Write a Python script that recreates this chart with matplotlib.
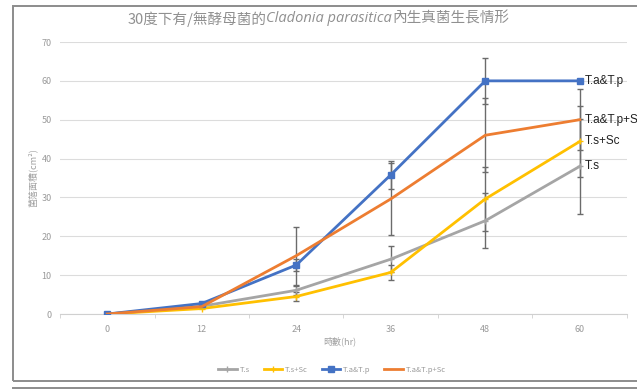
import matplotlib
matplotlib.use("Agg")
import matplotlib.pyplot as plt
from matplotlib.patches import Rectangle
from matplotlib.lines import Line2D

plt.rcParams['font.family'] = ['Noto Sans CJK TC', 'DejaVu Sans']

hours = [0, 12, 24, 36, 48, 60]
series_names = ["T.s", "T.s+Sc", "T.a&T.p", "T.a&T.p+Sc"]

ts = [0, 2.0, 6.1, 14.1, 24.0, 38.0]
ts_sc = [0, 1.4, 4.5, 10.7, 29.6, 44.4]
ta_tp = [0, 2.7, 12.6, 35.8, 60.0, 60.0]
ta_tp_sc = [0, 1.9, 15.0, 29.6, 46.0, 50.0]

ts_err = [0, 0, 1.1, 3.3, 7.1, 12.2]
ts_sc_err = [0, 0, 1.2, 1.9, 8.3, 9.2]
ta_tp_err = [0, 0, 1.5, 3.7, 6.0, 0]
ta_tp_sc_err = [0, 0, 7.5, 9.3, 9.5, 7.8]

colors = ["#A5A5A5", "#FFC000", "#4472C4", "#ED7D31"]
markers = ["+", "+", "s", None]
marker_sizes = [4, 4, 4.5, 0]

title_main = "30度下有/無酵母菌的"
title_species = "Cladonia parasitica"
title_tail = "內生真菌生長情形"
xlabel = "時數(hr)"
ylabel = "菌落面積(cm²)"

fig = plt.figure(figsize=(6.37, 3.92), dpi=100)
ax = fig.add_axes([60 / 637, 1 - 314 / 392, (627 - 60) / 637, (314 - 42) / 392])

values = [ts, ts_sc, ta_tp, ta_tp_sc]
errors = [ts_err, ts_sc_err, ta_tp_err, ta_tp_sc_err]

# error bars drawn first, in dark gray, underneath the lines
for vals, errs in zip(values, errors):
    xs = [h for h, e in zip(hours, errs) if e > 0]
    ys = [v for v, e in zip(vals, errs) if e > 0]
    es = [e for e in errs if e > 0]
    ax.errorbar(xs, ys, yerr=es, fmt="none", ecolor="#6b6b6b", elinewidth=1.0,
                capsize=2.5, capthick=1.0, zorder=2)

for vals, name, c, m, ms in zip(values, series_names, colors, markers, marker_sizes):
    ax.plot(hours, vals, color=c, lw=2.0, marker=m, markersize=ms,
            markeredgecolor=c, markerfacecolor=c, label=name, zorder=3)
    ax.text(60.6, vals[-1], name, fontsize=8.5, color="#222222", va="center",
            ha="left", family=["Liberation Sans", "DejaVu Sans"], clip_on=False)

ax.set_xlim(-6, 66)
ax.set_ylim(0, 70)
ax.set_yticks(range(0, 71, 10))
ax.set_xticks(hours)
ax.set_xticks([h + 6 for h in [-12] + hours], minor=True)
ax.grid(axis="y", color="#dcdcdc", lw=0.8)
ax.set_axisbelow(True)
for s in ["top", "right", "left"]:
    ax.spines[s].set_visible(False)
ax.spines["bottom"].set_color("#d0d0d0")
ax.tick_params(axis="y", length=0, labelsize=6.5, labelcolor="#9a9a9a", pad=6)
ax.tick_params(axis="x", which="major", length=0, labelsize=6.5, labelcolor="#9a9a9a", pad=8)
ax.tick_params(axis="x", which="minor", length=3, color="#d0d0d0")

fig.text(33 / 637, 1 - 178 / 392, ylabel, rotation=90, ha="center", va="center",
         fontsize=6.5, color="#a0a0a0")
fig.text(340 / 637, 1 - 341 / 392, xlabel, ha="center", va="center",
         fontsize=6.5, color="#a0a0a0")

# title built from three pieces so the species name is italic
title_y = 1 - 19 / 392
t1 = fig.text(0, title_y, title_main, fontsize=10.5, color="#909090", va="center")
t2 = fig.text(0, title_y, title_species, fontsize=10.5, color="#909090", va="center",
              style="italic", family=["Open Sans", "DejaVu Sans"])
t3 = fig.text(0, title_y, title_tail, fontsize=10.5, color="#909090", va="center")
fig.canvas.draw()
r = fig.canvas.get_renderer()
w1 = t1.get_window_extent(r).width
w2 = t2.get_window_extent(r).width
w3 = t3.get_window_extent(r).width
total = w1 + w2 + w3
x0 = 318 - total / 2
t1.set_x(x0 / 637)
t2.set_x((x0 + w1) / 637)
t3.set_x((x0 + w1 + w2) / 637)

handles = [Line2D([0], [0], color=c, lw=2, marker=m, markersize=ms,
                  markerfacecolor=c, markeredgecolor=c)
           for c, m, ms in zip(colors, markers, marker_sizes)]
fig.legend(handles, series_names, loc="center", bbox_to_anchor=(332 / 637, 1 - 370 / 392),
           ncol=4, frameon=False, fontsize=5.5, labelcolor="#9a9a9a",
           handlelength=2.4, columnspacing=1.8, handletextpad=0.4)

# chart frame and the top of the next box below it
fig.patches.append(Rectangle((13 / 637, 1 - 381 / 392), 640 / 637, 375 / 392,
                             transform=fig.transFigure, fill=False,
                             edgecolor="#8c8c8c", lw=1.4))
fig.lines.append(Line2D([13 / 637, 1.0], [1 - 388 / 392] * 2,
                        transform=fig.transFigure, color="#8c8c8c", lw=1.4))

fig.savefig("out.png", dpi=100)
